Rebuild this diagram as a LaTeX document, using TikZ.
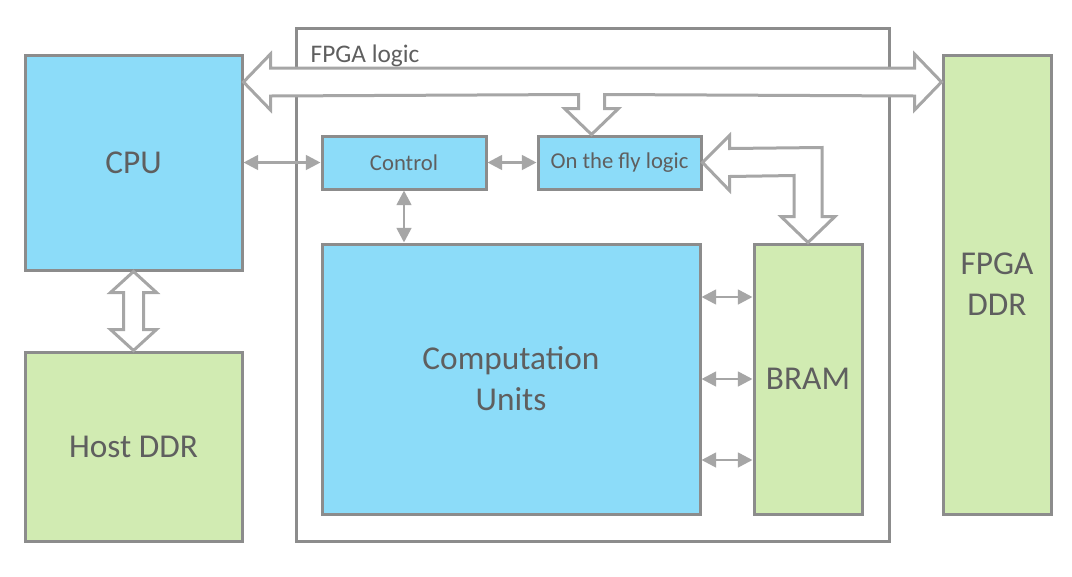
\documentclass[tikz,border=0pt]{standalone}
\usepackage{fontspec}
\setmainfont{Carlito}
\usepackage{tikz}
\usetikzlibrary{arrows.meta, positioning, calc}
\usepackage[dvipsnames, svgnames, table]{xcolor}

\definecolor{cpublue}{HTML}{8CDCF9}
\definecolor{memgreen}{HTML}{D1EBB2}
\definecolor{edgegray}{HTML}{8C8C8C}
\definecolor{linkgray}{HTML}{A6A6A6}
\definecolor{txtgray}{HTML}{5F5F5F}

\tikzset{
  blk/.style={draw=edgegray, line width=2.25pt, inner sep=0pt, text=txtgray, align=center},
  cpublk/.style={blk, fill=cpublue},
  memblk/.style={blk, fill=memgreen},
  bigtxt/.style={font=\fontsize{25}{30.75}\selectfont},
  smalltxt/.style={font=\fontsize{17}{20}\selectfont},
  link/.style={draw=linkgray, line width=2pt, {Triangle[length=11pt,width=11pt]}-{Triangle[length=11pt,width=11pt]}},
  fat/.style={draw=linkgray, fill=white, line width=2.25pt, line join=miter},
}

\begin{document}
\begin{tikzpicture}[x=0.75pt, y=-0.75pt]
    \useasboundingbox (0,0) rectangle (1072,576);

    % Host side
    \node[cpublk, bigtxt, minimum width=162.75pt, minimum height=161.25pt] (cpu) at (133.5,162.5) {CPU};
    \node[memblk, bigtxt, minimum width=162.75pt, minimum height=141.75pt] (hddr) at (133.5,446.5) {Host DDR};

    % FPGA frame
    \node[blk, fill=white, minimum width=444.75pt, minimum height=384.75pt] (fpga) at (592.5,284.5) {};
    \node[anchor=base west, text=txtgray, font=\fontsize{19}{22}\selectfont] (flabel) at (306,62) {FPGA logic};

    % Blocks inside the FPGA
    \node[cpublk, smalltxt, minimum width=123pt, minimum height=39.75pt] (ctrl) at (404,162.5) {Control};
    \node[cpublk, smalltxt, minimum width=122.25pt, minimum height=39.75pt] (otf) at (619.5,162.5) {On the fly logic};
    \node[cpublk, bigtxt, minimum width=283.5pt, minimum height=202.5pt] (comp) at (511,379) {Computation\\Units};
    \node[memblk, bigtxt, minimum width=81pt, minimum height=202.5pt] (bram) at (808,379) {BRAM};

    % FPGA memory
    \node[memblk, bigtxt, minimum width=81pt, minimum height=344.25pt] (fddr) at (997,284.5) {FPGA\\DDR};

    % Wide bus with branch down to the on the fly logic
    \coordinate (busw) at (cpu.east |- 0,82);
    \coordinate (buse) at (fddr.west |- 0,82);
    \coordinate (drop) at ($(otf.north west)+(55,0)$);
    \draw[fat] (busw) -- ++(27,-28) -- ++(0,14) -- ($(buse)+(-27,-14)$) -- ++(0,-14) -- (buse)
        -- ++(-27,28) -- ++(0,-14) -- ($(drop)+(13,-40)$) -- ++(0,14) -- ++(14,0) -- (drop)
        -- ++(-27,-26) -- ++(14,0) -- ++(0,-14) -- ($(busw)+(27,14)$) -- ++(0,14) -- cycle;

    % Wide link between on the fly logic and BRAM
    \draw[fat] (otf.east) -- ++(27,-27) -- ++(0,13) -- ($(bram.north)+(14,-95)$) -- ++(0,69)
        -- ++(13,0) -- (bram.north) -- ++(-27,-26) -- ++(13,0) -- ++(0,-41)
        -- ($(otf.east)+(27,14)$) -- ++(0,14) -- cycle;

    % Wide link between CPU and host memory
    \draw[fat] (cpu.south) -- ++(23,21) -- ++(-13,0) -- ($(hddr.north)+(10,-21)$) -- ++(13,0)
        -- (hddr.north) -- ++(-23,-21) -- ++(13,0) -- ($(cpu.south)+(-10,21)$) -- ++(-13,0) -- cycle;

    % Thin links
    \draw[link] (cpu.east) -- (ctrl.west);
    \draw[link] (ctrl.east) -- (otf.west);
    \draw[link] (ctrl.south) -- (ctrl.south |- comp.north);
    \draw[link] (comp.east |- 0,297) -- (bram.west |- 0,297);
    \draw[link] (comp.east) -- (bram.west);
    \draw[link] (comp.east |- 0,460) -- (bram.west |- 0,460);
\end{tikzpicture}
\end{document}
